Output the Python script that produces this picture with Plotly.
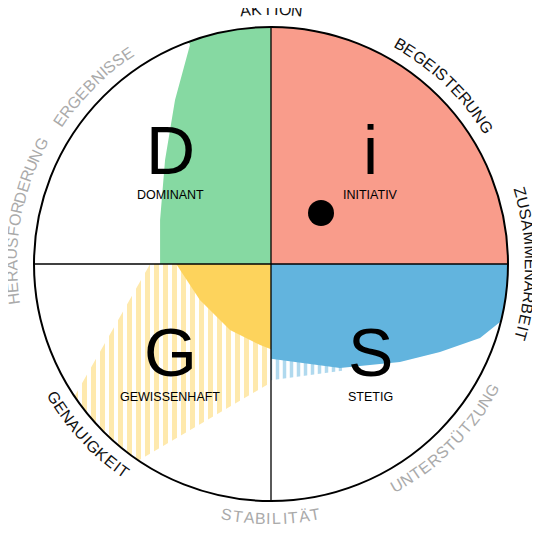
import numpy as np
import plotly.graph_objects as go

# ---- data (unit circle coordinates) ----
green_edge_x = [-0.342, -0.405, -0.447, -0.468, -0.468]
green_edge_y = [0.924, 0.692, 0.439, 0.186, 0.0]
yellow_x = [0.0, -0.40, -0.30, -0.173, -0.046, 0.0]
yellow_y = [0.0, 0.0, -0.152, -0.278, -0.342, -0.36]
yhatch_top_x = [-0.51, -0.83]
yhatch_top_y = [0.0, -0.56]
yhatch_arc_deg = [-146, -124]
yhatch_end_y = -0.50
blue_arc_deg = [0, -14]
blue_edge_x = [0.882, 0.713, 0.544, 0.291, 0.0]
blue_edge_y = [-0.312, -0.371, -0.414, -0.439, -0.40]
bhatch_x = [0.0, 0.30, 0.30, 0.0]
bhatch_y = [-0.36, -0.43, -0.45, -0.49]
dot = (0.211, 0.215)

letters = ["D", "i", "G", "S"]
names = ["DOMINANT", "INITIATIV", "GEWISSENHAFT", "STETIG"]
letter_pos = [(-0.426, 0.48), (0.418, 0.48), (-0.426, -0.37), (0.418, -0.37)]

ring_labels = ["AKTION", "BEGEISTERUNG", "ZUSAMMENARBEIT", "UNTERSTÜTZUNG",
               "STABILITÄT", "GENAUIGKEIT", "HERAUSFORDERUNG", "ERGEBNISSE"]
ring_angles = [90, 46, 0, -45, -90, -137, 170, 135]
ring_colors = ["#111", "#111", "#111", "#aaa", "#aaa", "#111", "#aaa", "#aaa"]

GREEN, RED, YELLOW, BLUE = "#86D9A2", "#F99C8B", "#FDD35C", "#62B4DE"

def arc(a0, a1, n=60):
    t = np.radians(np.linspace(a0, a1, n))
    return list(np.cos(t)), list(np.sin(t))

fig = go.Figure()

ax_, ay_ = arc(*yhatch_arc_deg)
hx = yhatch_top_x + ax_ + [0.0, 0.0]
hy = yhatch_top_y + ay_ + [yhatch_end_y, 0.0]
fig.add_trace(go.Scatter(x=hx, y=hy, fill="toself", mode="none",
                         fillcolor="rgba(0,0,0,0)",
                         fillpattern=dict(shape="|", fgcolor=YELLOW, bgcolor="white",
                                          size=9, solidity=0.55)))
fig.add_trace(go.Scatter(x=bhatch_x, y=bhatch_y, fill="toself", mode="none",
                         fillcolor="rgba(0,0,0,0)",
                         fillpattern=dict(shape="|", fgcolor=BLUE, bgcolor="white",
                                          size=7, solidity=0.5)))
a_top = np.degrees(np.arctan2(green_edge_y[0], green_edge_x[0]))
gx_arc, gy_arc = arc(90, a_top)
gx = [0.0] + gx_arc + green_edge_x + [0.0]
gy = [0.0] + gy_arc + green_edge_y + [0.0]
fig.add_trace(go.Scatter(x=gx, y=gy, fill="toself", mode="none", fillcolor=GREEN))
fig.add_trace(go.Scatter(x=yellow_x, y=yellow_y, fill="toself", mode="none", fillcolor=YELLOW))
bx_arc, by_arc = arc(*blue_arc_deg)
fig.add_trace(go.Scatter(x=[0.0] + bx_arc + blue_edge_x, y=[0.0] + by_arc + blue_edge_y,
                         fill="toself", mode="none", fillcolor=BLUE))
rx, ry = arc(0, 90)
fig.add_trace(go.Scatter(x=[0.0] + rx, y=[0.0] + ry, fill="toself", mode="none", fillcolor=RED))
fig.add_trace(go.Scatter(x=[dot[0]], y=[dot[1]], mode="markers",
                         marker=dict(size=26, color="black")))

shapes = [
    dict(type="circle", x0=-1, y0=-1, x1=1, y1=1, line=dict(color="black", width=2)),
    dict(type="line", x0=-1, y0=0, x1=1, y1=0, line=dict(color="black", width=1.3)),
    dict(type="line", x0=0, y0=-1, x1=0, y1=1, line=dict(color="black", width=1.3)),
]

ann = []
for L, N, (x, y) in zip(letters, names, letter_pos):
    ann.append(dict(x=x, y=y, text=L, showarrow=False,
                    font=dict(size=68, color="black", family="Liberation Sans")))
    ann.append(dict(x=x, y=y - 0.19, text=N, showarrow=False,
                    font=dict(size=12.5, color="black", family="Liberation Sans")))

W = {"I": 0.32, "M": 0.88, "W": 0.98, "Ä": 0.70, "Ü": 0.75, "G": 0.80, "O": 0.80}
FS = 16
Rpx = 237.0
for text, ang, col in zip(ring_labels, ring_angles, ring_colors):
    bottom = -180 < ang < 0
    r = 1.075
    if ang in (0, 170):
        r = 1.095
    widths = [W.get(c, 0.70) * FS for c in text]
    total = sum(widths)
    step = np.degrees(1.0 / (r * Rpx))
    cum = -total / 2
    for c, w in zip(text, widths):
        mid = cum + w / 2
        cum += w
        if bottom:
            th = ang + mid * step
            ta = -(th + 90)
        else:
            th = ang - mid * step
            ta = 90 - th
        t = np.radians(th)
        ann.append(dict(x=r * np.cos(t), y=r * np.sin(t), text=c, showarrow=False,
                        textangle=ta, font=dict(size=FS, color=col, family="Liberation Sans")))

fig.update_layout(width=540, height=535, margin=dict(l=0, r=0, t=0, b=0),
                  paper_bgcolor="white", plot_bgcolor="white", showlegend=False,
                  shapes=shapes, annotations=ann,
                  xaxis=dict(range=[-263 / 237, 277 / 237], visible=False, fixedrange=True),
                  yaxis=dict(range=[-279 / 237, 256 / 237], visible=False, fixedrange=True))
fig.write_html("out.html")
